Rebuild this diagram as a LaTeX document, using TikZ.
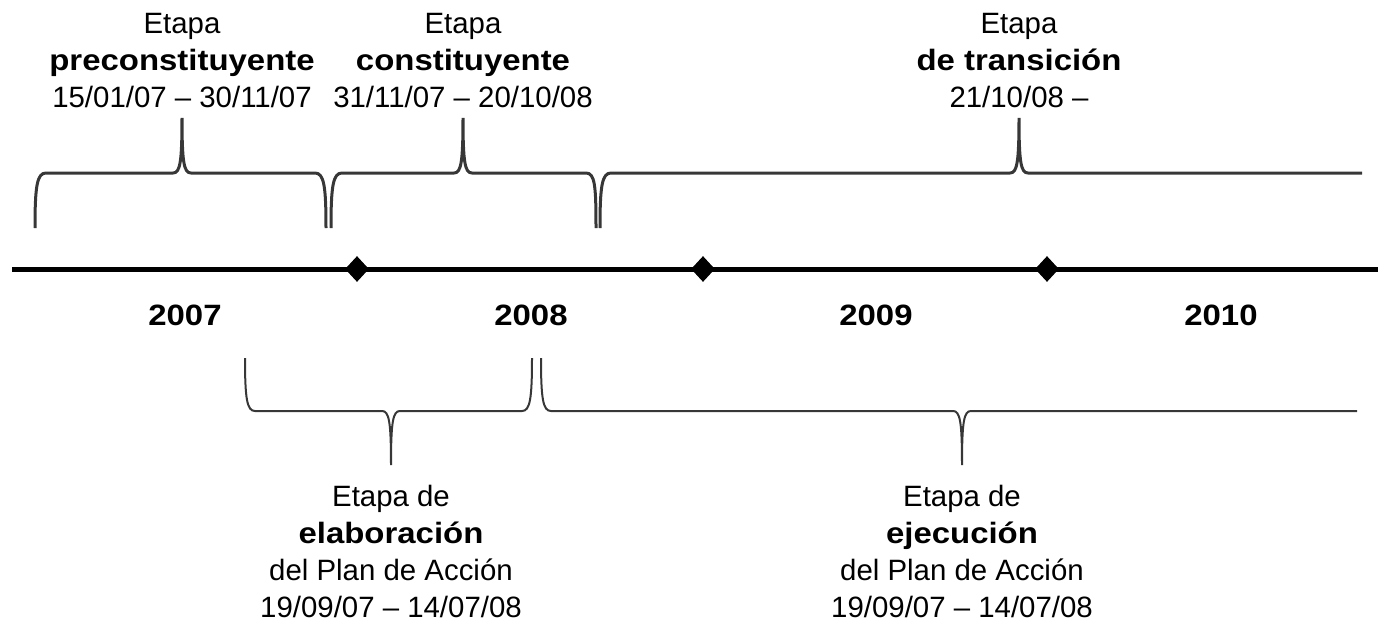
\documentclass[tikz,border=0pt]{standalone}
\usepackage{fontspec}
\setmainfont{Liberation Sans}[BoldFeatures={FakeStretch=1.12}]
\usetikzlibrary{positioning}
\usetikzlibrary{shapes.geometric}
\definecolor{bracegray}{RGB}{55,55,55}

\begin{document}
\begin{tikzpicture}[x=0.5pt,y=-0.5pt,
    every node/.style={inner sep=0pt,align=center,font=\fontsize{14.7}{18.5}\selectfont},
    year/.style={font=\fontsize{14.7}{18.5}\selectfont\bfseries},
    hito/.style={diamond,fill=black,minimum width=12pt,minimum height=13pt},
    tbrace/.style={draw=bracegray,line width=1.5pt},
    bbrace/.style={draw=bracegray,line width=1pt}]
    \useasboundingbox (0,0) rectangle (1378,621);

    % linea de tiempo
    \coordinate (inicio) at (12,269);
    \coordinate (fin) at (1378,269);
    \draw[line width=2.5pt] (inicio) -- (fin);
    \node[hito] (h1) at (357,269) {};
    \node[hito] (h2) at (703,269) {};
    \node[hito] (h3) at (1047,269) {};

    \node[year] (y2007) at (185,315) {2007};
    \node[year] (y2008) at (531,315) {2008};
    \node[year] (y2009) at (876,315) {2009};
    \node[year] (y2010) at (1221,315) {2010};

    % llaves de arriba
    \coordinate (tPre) at (182,118);
    \coordinate (tCon) at (463,118);
    \coordinate (tTra) at (1019,118);

    \draw[tbrace] (35,228) .. controls (35,186) and (37,173) .. (46,173) -- (173,173)
        .. controls (180,173) and (182,163) .. (tPre)
        .. controls (182,163) and (184,173) .. (191,173) -- (315,173)
        .. controls (324,173) and (326,186) .. (326,228);
    \draw[tbrace] (331,228) .. controls (331,186) and (333,173) .. (342,173) -- (454,173)
        .. controls (461,173) and (463,163) .. (tCon)
        .. controls (463,163) and (465,173) .. (472,173) -- (586,173)
        .. controls (595,173) and (596,186) .. (596,228);
    \draw[tbrace] (600,228) .. controls (600,186) and (602,173) .. (611,173) -- (1010,173)
        .. controls (1017,173) and (1019,163) .. (tTra)
        .. controls (1019,163) and (1021,173) .. (1028,173) -- (1362,173);

    \node[above=5pt of tPre] (pre) {Etapa\\\textbf{preconstituyente}\\15/01/07 – 30/11/07};
    \node[above=5pt of tCon] (con) {Etapa\\\textbf{constituyente}\\31/11/07 – 20/10/08};
    \node[above=5pt of tTra] (tra) {Etapa\\\textbf{de transición}\\21/10/08 –};

    % llaves de abajo
    \coordinate (bElab) at (391,465);
    \coordinate (bEjec) at (962,465);

    \draw[bbrace] (245,358) .. controls (245,399) and (247,411) .. (255,411) -- (382,411)
        .. controls (389,411) and (391,421) .. (bElab)
        .. controls (391,421) and (393,411) .. (400,411) -- (522,411)
        .. controls (530,411) and (532,399) .. (532,358);
    \draw[bbrace] (541,358) .. controls (541,399) and (543,411) .. (551,411) -- (953,411)
        .. controls (960,411) and (962,421) .. (bEjec)
        .. controls (962,421) and (964,411) .. (971,411) -- (1357,411);

    \node[below=10pt of bElab] (elab) {Etapa de\\\textbf{elaboración}\\del Plan de Acción\\19/09/07 – 14/07/08};
    \node[below=10pt of bEjec] (ejec) {Etapa de\\\textbf{ejecución}\\del Plan de Acción\\19/09/07 – 14/07/08};
\end{tikzpicture}
\end{document}
